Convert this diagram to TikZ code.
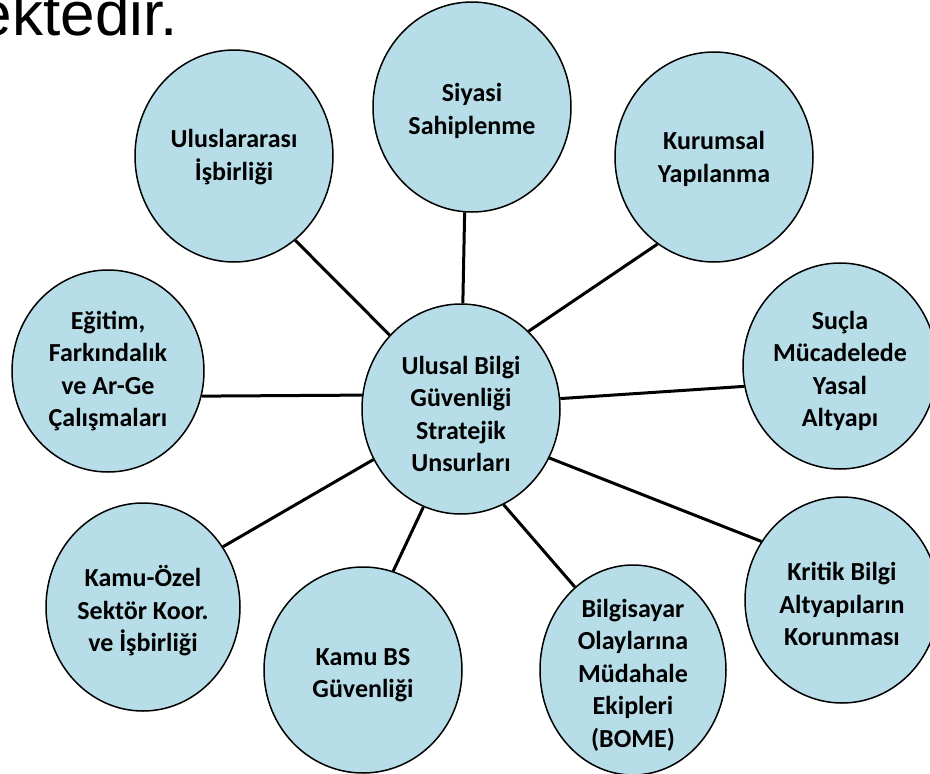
\documentclass[tikz,border=0pt]{standalone}
\usepackage{fontspec}
\setmainfont{Carlito}
\newfontfamily\arialfont{Liberation Sans}
\usetikzlibrary{shapes.geometric}
\definecolor{bubble}{HTML}{B7DEE8}
\begin{document}
\begin{tikzpicture}[x=1pt,y=-1pt,
  bub/.style={ellipse, draw=black, line width=1.5pt, fill=bubble, inner sep=0pt},
  txt/.style={align=center, inner sep=0pt, font=\fontsize{26}{32.5}\selectfont\bfseries},
  link/.style={line width=3pt, black}]
\clip (0,0) rectangle (930,774);
\fill[white] (0,0) rectangle (930,774);
\node[anchor=base east, inner sep=0pt, font=\arialfont\fontsize{62}{70}\selectfont] (title) at (178,35) {ektedir.};

\node[bub, minimum width=198, minimum height=210] (c) at (461,409) {};
\node[txt] (c-t) at ([yshift=-5pt]c.center) {Ulusal Bilgi\\Güvenliği\\Stratejik\\Unsurları};
\node[bub, minimum width=198, minimum height=210] (siy) at (472,107) {};
\node[txt] (siy-t) at ([yshift=-4pt]siy.center) {Siyasi\\Sahiplenme};
\node[bub, minimum width=198, minimum height=212] (ulu) at (234,156) {};
\node[txt] (ulu-t) at ([yshift=-1pt]ulu.center) {Uluslararası\\İşbirliği};
\node[bub, minimum width=198, minimum height=210] (kur) at (714,157) {};
\node[txt] (kur-t) at ([yshift=-2pt]kur.center) {Kurumsal\\Yapılanma};
\node[bub, minimum width=194, minimum height=206] (suc) at (840,366) {};
\node[txt] (suc-t) at ([yshift=-5pt]suc.center) {Suçla\\Mücadelede\\Yasal\\Altyapı};
\node[bub, minimum width=192, minimum height=202] (egi) at (108,371) {};
\node[txt] (egi-t) at (egi.center) {Eğitim,\\Farkındalık\\ve Ar-Ge\\Çalışmaları};
\node[bub, minimum width=194, minimum height=208] (kao) at (143,607) {};
\node[txt] (kao-t) at ([yshift=-4pt]kao.center) {Kamu-Özel\\Sektör Koor.\\ve İşbirliği};
\node[bub, minimum width=198, minimum height=206] (kbs) at (363,670) {};
\node[txt] (kbs-t) at ([yshift=-5pt]kbs.center) {Kamu BS\\Güvenliği};
\node[bub, minimum width=186, minimum height=210] (bil) at (633,670) {};
\node[txt] (bil-t) at ([yshift=-5pt]bil.center) {Bilgisayar\\Olaylarına\\Müdahale\\Ekipleri\\(BOME)};
\node[bub, minimum width=194, minimum height=206] (kri) at (842,600) {};
\node[txt] (kri-t) at ([yshift=-4pt]kri.center) {Kritik Bilgi\\Altyapıların\\Korunması};

\draw[link] (c.89.4) -- (siy.266.7);
\draw[link] (c.134.2) -- (ulu.-54.5);
\draw[link] (c.49.4) -- (kur.237.9);
\draw[link] (c.6.9) -- (suc.192.8);
\draw[link] (c.172.5) -- (egi.-15.2);
\draw[link] (c.210.3) -- (kao.37);
\draw[link] (c.249.3) -- (kbs.73.8);
\draw[link] (c.294.3) -- (bil.125);
\draw[link] (c.331) -- (kri.144);
\end{tikzpicture}
\end{document}
